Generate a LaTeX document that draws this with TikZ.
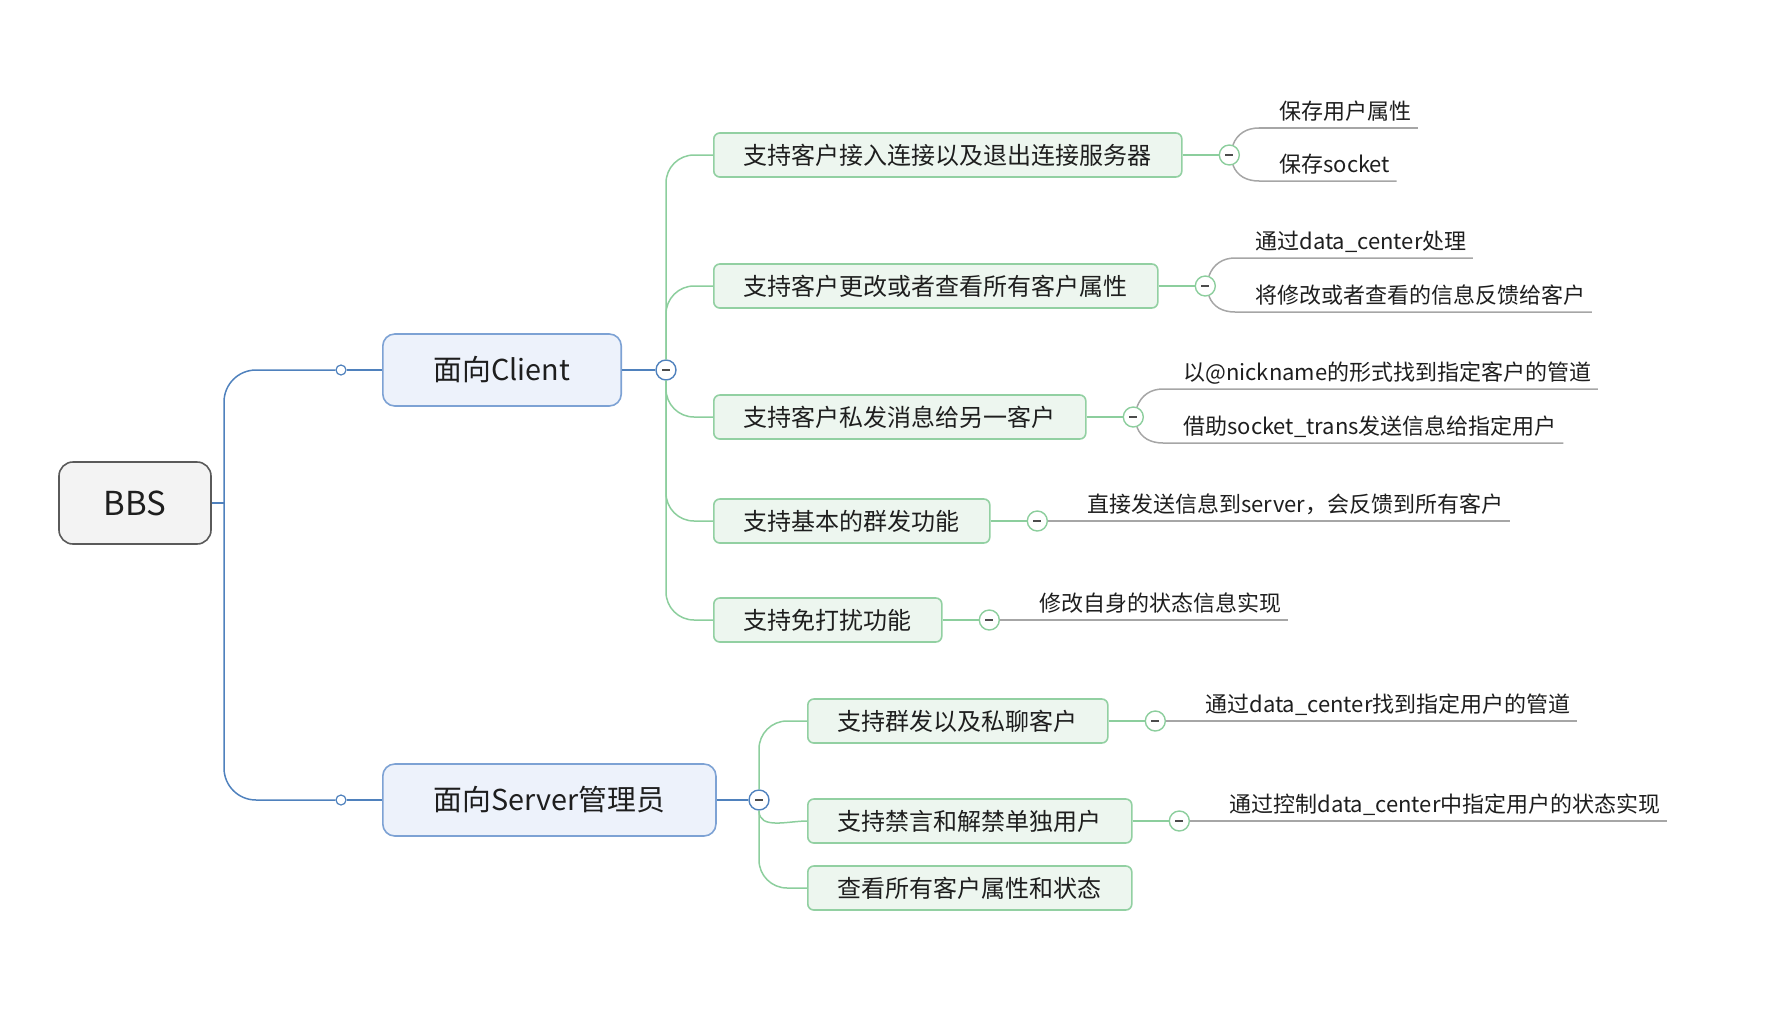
\documentclass[tikz,border=0pt]{standalone}
\usepackage{fontspec}
\setmainfont{Noto Sans CJK SC}
\usetikzlibrary{positioning}

\definecolor{rootfill}{HTML}{F3F3F3}
\definecolor{rootline}{HTML}{5A5A5A}
\definecolor{topfill}{HTML}{EDF2FB}
\definecolor{topline}{HTML}{7DA2D4}
\definecolor{bluelink}{HTML}{4F81BD}
\definecolor{subfill}{HTML}{EDF6EF}
\definecolor{subline}{HTML}{92D0A2}
\definecolor{greenlink}{HTML}{8CCE9D}
\definecolor{leafline}{HTML}{A6A6A6}
\definecolor{inkgray}{HTML}{1E1E1E}

\begin{document}
\begin{tikzpicture}[x=0.5pt, y=-0.5pt,
    rootbox/.style={draw=rootline, fill=rootfill, line width=0.8pt, rounded corners=7pt,
      minimum width=76pt, minimum height=41pt, font=\fontsize{16.5}{18}\selectfont, text=inkgray},
    topbox/.style={draw=topline, fill=topfill, line width=0.8pt, rounded corners=6pt, anchor=west,
      inner xsep=25.5pt, minimum height=36pt, font=\fontsize{14.4}{16}\selectfont, text=inkgray},
    subbox/.style={draw=subline, fill=subfill, line width=0.8pt, rounded corners=3pt, anchor=west,
      inner xsep=15pt, minimum height=22pt, font=\fontsize{12}{14}\selectfont, text=inkgray},
    leaf/.style={anchor=south west, inner xsep=3pt, inner ysep=1pt, text depth=3pt,
      font=\fontsize{11}{13}\selectfont, text=inkgray},
    fold/.style={circle, draw=greenlink, fill=white, line width=0.7pt, minimum size=10pt, inner sep=0pt,
      path picture={\draw[black!70, line width=0.7pt]
        ([xshift=-2pt]path picture bounding box.center) -- ([xshift=2pt]path picture bounding box.center);}},
    knob/.style={circle, draw=bluelink, fill=white, line width=0.6pt, minimum size=5pt, inner sep=0pt},
    bluewire/.style={draw=bluelink, line width=0.75pt},
    greenwire/.style={draw=greenlink, line width=0.75pt, rounded corners=14pt},
    graywire/.style={draw=leafline, line width=0.75pt}]
  \useasboundingbox (0,0) rectangle (1792,1022);

  % 中心主题
  \node[rootbox] (root) at (135,503) {BBS};

  % 两个分支主题
  \node[topbox] (client) at (382,370) {面向Client};
  \node[topbox] (server) at (382,800) {面向Server管理员};
  \node[knob] (kc) at (341,370) {};
  \node[knob] (ks) at (341,800) {};
  \coordinate (hub) at (224,503);
  \draw[bluewire] (root.east) -- (hub);
  \draw[bluewire, rounded corners=16pt] (kc.west) -| (hub) |- (ks.west);
  \draw[bluewire] (kc) -- (client);
  \draw[bluewire] (ks) -- (server);

  % 面向Client的子主题
  \node[fold, draw=bluelink] (fc) at (666,370) {};
  \draw[bluewire] (client) -- (fc);
  \node[subbox] (c1) at (713,155) {支持客户接入连接以及退出连接服务器};
  \node[subbox] (c2) at (713,286) {支持客户更改或者查看所有客户属性};
  \node[subbox] (c3) at (713,417) {支持客户私发消息给另一客户};
  \node[subbox] (c4) at (713,521) {支持基本的群发功能};
  \node[subbox] (c5) at (713,620) {支持免打扰功能};
  \foreach \c in {c1,c2} \draw[greenwire] (fc.north) |- (\c.west);
  \foreach \c in {c3,c4,c5} \draw[greenwire] (fc.south) |- (\c.west);

  % 面向Server管理员的子主题
  \node[fold, draw=bluelink] (fs) at (759,800) {};
  \draw[bluewire] (server) -- (fs);
  \node[subbox] (s1) at (807,721) {支持群发以及私聊客户};
  \node[subbox] (s2) at (807,821) {支持禁言和解禁单独用户};
  \node[subbox] (s3) at (807,888) {查看所有客户属性和状态};
  \draw[greenwire] (fs.north) |- (s1.west);
  \draw[greenwire] (fs.south) to[out=-90, in=180] (s2.west);
  \draw[greenwire] (fs.south) |- (s3.west);

  % 折叠按钮
  \foreach \c/\f in {c1/f1,c2/f2,c3/f3,c4/f4,c5/f5,s1/g1,s2/g2} {
    \node[fold, right=18pt of \c] (\f) {};
    \draw[greenwire] (\c) -- (\f);
  }

  % 两条细节的子主题
  \node[leaf] (l1a) at ([xshift=16.5pt, yshift=13.5pt]f1.east) {保存用户属性};
  \node[leaf] (l1b) at ([xshift=16.5pt, yshift=-13pt]f1.east) {保存socket};
  \node[leaf] (l2a) at ([xshift=16.5pt, yshift=14pt]f2.east) {通过data\_center处理};
  \node[leaf] (l2b) at ([xshift=16.5pt, yshift=-13pt]f2.east) {将修改或者查看的信息反馈给客户};
  \node[leaf] (l3a) at ([xshift=16.5pt, yshift=14pt]f3.east) {以@nickname的形式找到指定客户的管道};
  \node[leaf] (l3b) at ([xshift=16.5pt, yshift=-13pt]f3.east) {借助socket\_trans发送信息给指定用户};
  \foreach \f/\l in {f1/l1a,f2/l2a,f3/l3a}
    \draw[graywire] (\f.70) to[out=70, in=180] ([xshift=-7pt]\l.south west) -- (\l.south east);
  \foreach \f/\l in {f1/l1b,f2/l2b,f3/l3b}
    \draw[graywire] (\f.-70) to[out=-70, in=180] ([xshift=-7pt]\l.south west) -- (\l.south east);

  % 一条细节的子主题
  \node[leaf] (l4) at ([xshift=16.5pt]f4.east) {直接发送信息到server，会反馈到所有客户};
  \node[leaf] (l5) at ([xshift=16.5pt]f5.east) {修改自身的状态信息实现};
  \node[leaf] (m1) at ([xshift=16.5pt]g1.east) {通过data\_center找到指定用户的管道};
  \node[leaf] (m2) at ([xshift=16.5pt]g2.east) {通过控制data\_center中指定用户的状态实现};
  \foreach \f/\l in {f4/l4,f5/l5,g1/m1,g2/m2}
    \draw[graywire] (\f) -- (\l.south east);
\end{tikzpicture}
\end{document}
